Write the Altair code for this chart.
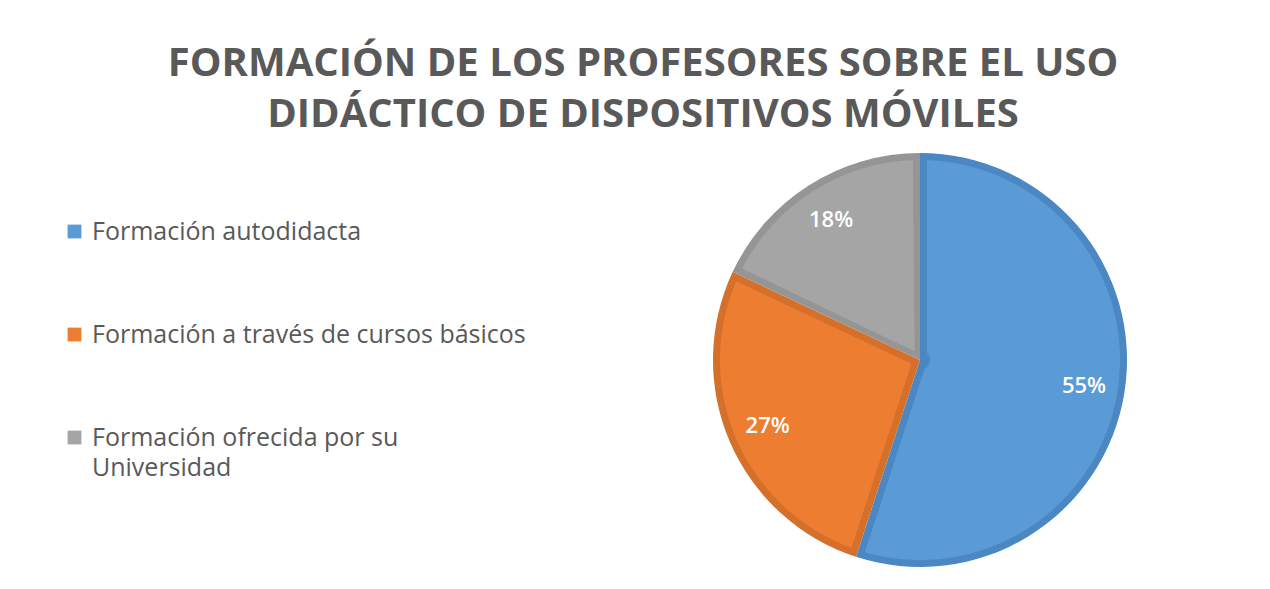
import altair as alt
import pandas as pd

categorias = [
    "Formación autodidacta",
    "Formación a través de cursos básicos",
    "Formación ofrecida por su Universidad",
]
valores = [55, 27, 18]
etiquetas = ["55%", "27%", "18%"]
orden = [0, 1, 2]

colores_relleno = ["#5B9BD5", "#ED7D31", "#A5A5A5"]
colores_borde = ["#4A87C3", "#D5702B", "#959595"]

titulo = [
    "FORMACIÓN DE LOS PROFESORES SOBRE EL USO",
    "DIDÁCTICO DE DISPOSITIVOS MÓVILES",
]

df = pd.DataFrame(
    {"categoria": categorias, "valor": valores, "etiqueta": etiquetas, "orden": orden}
)

CX, CY = 912, 219  # pie centre inside the view

base = alt.Chart(df).encode(
    theta=alt.Theta("valor:Q", stack=True),
    order=alt.Order("orden:Q"),
)

borde = base.mark_arc(outerRadius=207).encode(
    color=alt.Color(
        "categoria:N",
        scale=alt.Scale(domain=categorias, range=colores_borde),
        legend=None,
    ),
    x=alt.value(CX),
    y=alt.value(CY),
)

relleno = base.mark_arc(outerRadius=200, innerRadius=10, padAngle=0.07).encode(
    fill=alt.Fill(
        "categoria:N",
        scale=alt.Scale(domain=categorias, range=colores_relleno),
        legend=alt.Legend(
            title=None,
            orient="none",
            legendX=54,
            legendY=78,
            direction="vertical",
            symbolType="square",
            symbolSize=190,
            symbolStrokeWidth=0,
            labelFont="Open Sans",
            labelFontSize=25,
            labelColor="#595959",
            labelLimit=700,
            labelOffset=5,
            rowPadding=77,
            labelExpr="datum.label == 'Formación ofrecida por su Universidad' ? ['Formación ofrecida por su', 'Universidad'] : datum.label",
        ),
    ),
    x=alt.value(CX),
    y=alt.value(CY),
)

texto = base.mark_text(
    radius=166,
    font="Open Sans",
    fontSize=22,
    fontWeight=600,
    color="white",
).encode(
    text="etiqueta:N",
    x=alt.value(CX),
    y=alt.value(CY),
)

chart = (
    alt.layer(borde, relleno, texto)
    .resolve_scale(color="independent", fill="independent")
    .properties(
        width=1254,
        height=573,
        autosize=alt.AutoSizeParams(type="fit", contains="padding"),
        padding={"top": 36, "left": 0, "right": 0, "bottom": 0},
        title=alt.TitleParams(
            text=titulo,
            font="Open Sans",
            fontSize=40,
            fontWeight="bold",
            color="#595959",
            lineHeight=51,
            anchor="middle",
            dx=8,
            offset=6,
        ),
    )
    .configure(background="white", style={"guide-label": {"lineHeight": 30}})
    .configure_view(strokeWidth=0, stroke="transparent")
)

chart.save("out.html", embed_options={"renderer": "svg", "actions": False})
